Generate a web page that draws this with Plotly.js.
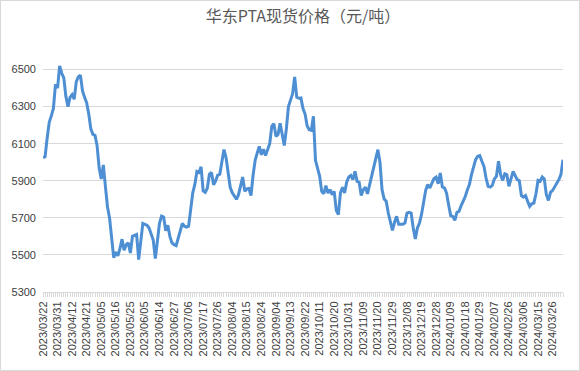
<!DOCTYPE html>
<html>
<head>
<meta charset="utf-8">
<script src="https://cdn.plot.ly/plotly-3.0.1.min.js"></script>
<style>
html,body{margin:0;padding:0;background:#fff;}
#wrap{position:relative;width:580px;height:371px;}
#chart{width:580px;height:371px;}
#frame{position:absolute;left:0;top:0;width:578px;height:369px;border:1px solid #d9d9d9;pointer-events:none;}
</style>
</head>
<body>
<div id="wrap"><div id="chart"></div><div id="frame"></div></div>
<script>
// Trading-day tick labels, one every 7 trading days
const tickLabels = [
  "2023/03/22","2023/03/31","2023/04/12","2023/04/21","2023/05/05","2023/05/16",
  "2023/05/25","2023/06/05","2023/06/14","2023/06/27","2023/07/06","2023/07/17",
  "2023/07/26","2023/08/04","2023/08/15","2023/08/24","2023/09/04","2023/09/13",
  "2023/09/22","2023/10/11","2023/10/20","2023/10/31","2023/11/09","2023/11/20",
  "2023/11/29","2023/12/08","2023/12/19","2023/12/28","2024/01/09","2024/01/18",
  "2024/01/29","2024/02/07","2024/02/26","2024/03/06","2024/03/15","2024/03/26"
];
const labelEvery = 7;

// East China PTA spot price (yuan/ton), one value per trading day
const prices = [
  6025,6030,6130,6215,6250,6290,6420,6400,6520,6480,
  6455,6355,6300,6350,6365,6340,6435,6460,6470,6385,
  6350,6320,6260,6180,6150,6145,6090,5970,5910,5985,
  5870,5760,5700,5580,5485,5515,5495,5535,5585,5525,
  5555,5565,5510,5600,5605,5610,5475,5580,5670,5665,
  5660,5645,5615,5580,5480,5580,5670,5710,5705,5630,
  5660,5600,5565,5555,5550,5590,5630,5670,5655,5650,
  5655,5745,5835,5880,5950,5945,5975,5845,5838,5860,
  5935,5945,5878,5900,5930,5935,6015,6068,6025,5950,
  5865,5835,5815,5800,5825,5870,5920,5843,5856,5858,
  5820,5930,6010,6050,6085,6040,6070,6036,6065,6100,
  6195,6208,6140,6150,6210,6145,6090,6180,6300,6335,
  6370,6460,6350,6345,6347,6290,6260,6195,6175,6172,
  6248,6010,5960,5925,5843,5830,5874,5834,5852,5825,
  5843,5740,5717,5835,5865,5834,5892,5920,5928,5906,
  5951,5897,5892,5820,5852,5866,5829,5879,5915,5965,
  6030,6068,6000,5852,5802,5790,5726,5677,5632,5676,
  5708,5665,5663,5665,5672,5726,5730,5726,5645,5586,
  5645,5672,5720,5790,5850,5879,5861,5888,5912,5920,
  5884,5942,5866,5861,5834,5771,5712,5708,5686,5730,
  5735,5765,5790,5815,5850,5879,5933,5978,6014,6032,
  6036,6005,5978,5915,5870,5866,5875,5910,5924,6005,
  5933,5902,5938,5933,5870,5910,5951,5928,5906,5900,
  5820,5812,5820,5789,5762,5776,5780,5830,5902,5897,
  5920,5910,5825,5794,5838,5848,5865,5885,5906,5933,
  6014
];

const xIdx = prices.map((_, i) => i);
const tickVals = xIdx.slice();
const tickText = xIdx.map(i => (i % labelEvery === 0 && tickLabels[i / labelEvery]) ? tickLabels[i / labelEvery] : "");

const trace = {
  x: xIdx,
  y: prices,
  type: "scatter",
  mode: "lines",
  line: {color: "#4e8fd3", width: 3},
  hoverinfo: "skip"
};

const layout = {
  width: 580, height: 371,
  paper_bgcolor: "#ffffff", plot_bgcolor: "#ffffff",
  margin: {l: 43, r: 17, t: 51, b: 79},
  showlegend: false,
  title: {
    text: "华东PTA现货价格（元/吨）",
    font: {family: "Noto Sans CJK SC, sans-serif", size: 16, color: "#595959"},
    x: 0.5, xanchor: "center", y: 0.955, yanchor: "middle", xref: "paper"
  },
  xaxis: {
    type: "linear",
    range: [0, prices.length - 1],
    tickmode: "array",
    tickvals: tickVals,
    ticktext: tickText,
    tickangle: -90,
    ticks: "outside", ticklen: 4, tickcolor: "#d9d9d9", tickwidth: 1,
    showline: true, linecolor: "#d9d9d9", linewidth: 1,
    showgrid: false, zeroline: false,
    tickfont: {family: "Liberation Sans, Arial, sans-serif", size: 11, color: "#404040"},
    fixedrange: true
  },
  yaxis: {
    range: [5300, 6600],
    tickmode: "array",
    tickvals: [5300, 5500, 5700, 5900, 6100, 6300, 6500],
    showgrid: true, gridcolor: "#d9d9d9", gridwidth: 1,
    showline: false, zeroline: false, ticks: "",
    ticklabelstandoff: 6,
    tickfont: {family: "Liberation Sans, Arial, sans-serif", size: 11, color: "#404040"},
    fixedrange: true
  }
};

Plotly.newPlot("chart", [trace], layout, {displayModeBar: false, staticPlot: true});
</script>
</body>
</html>
